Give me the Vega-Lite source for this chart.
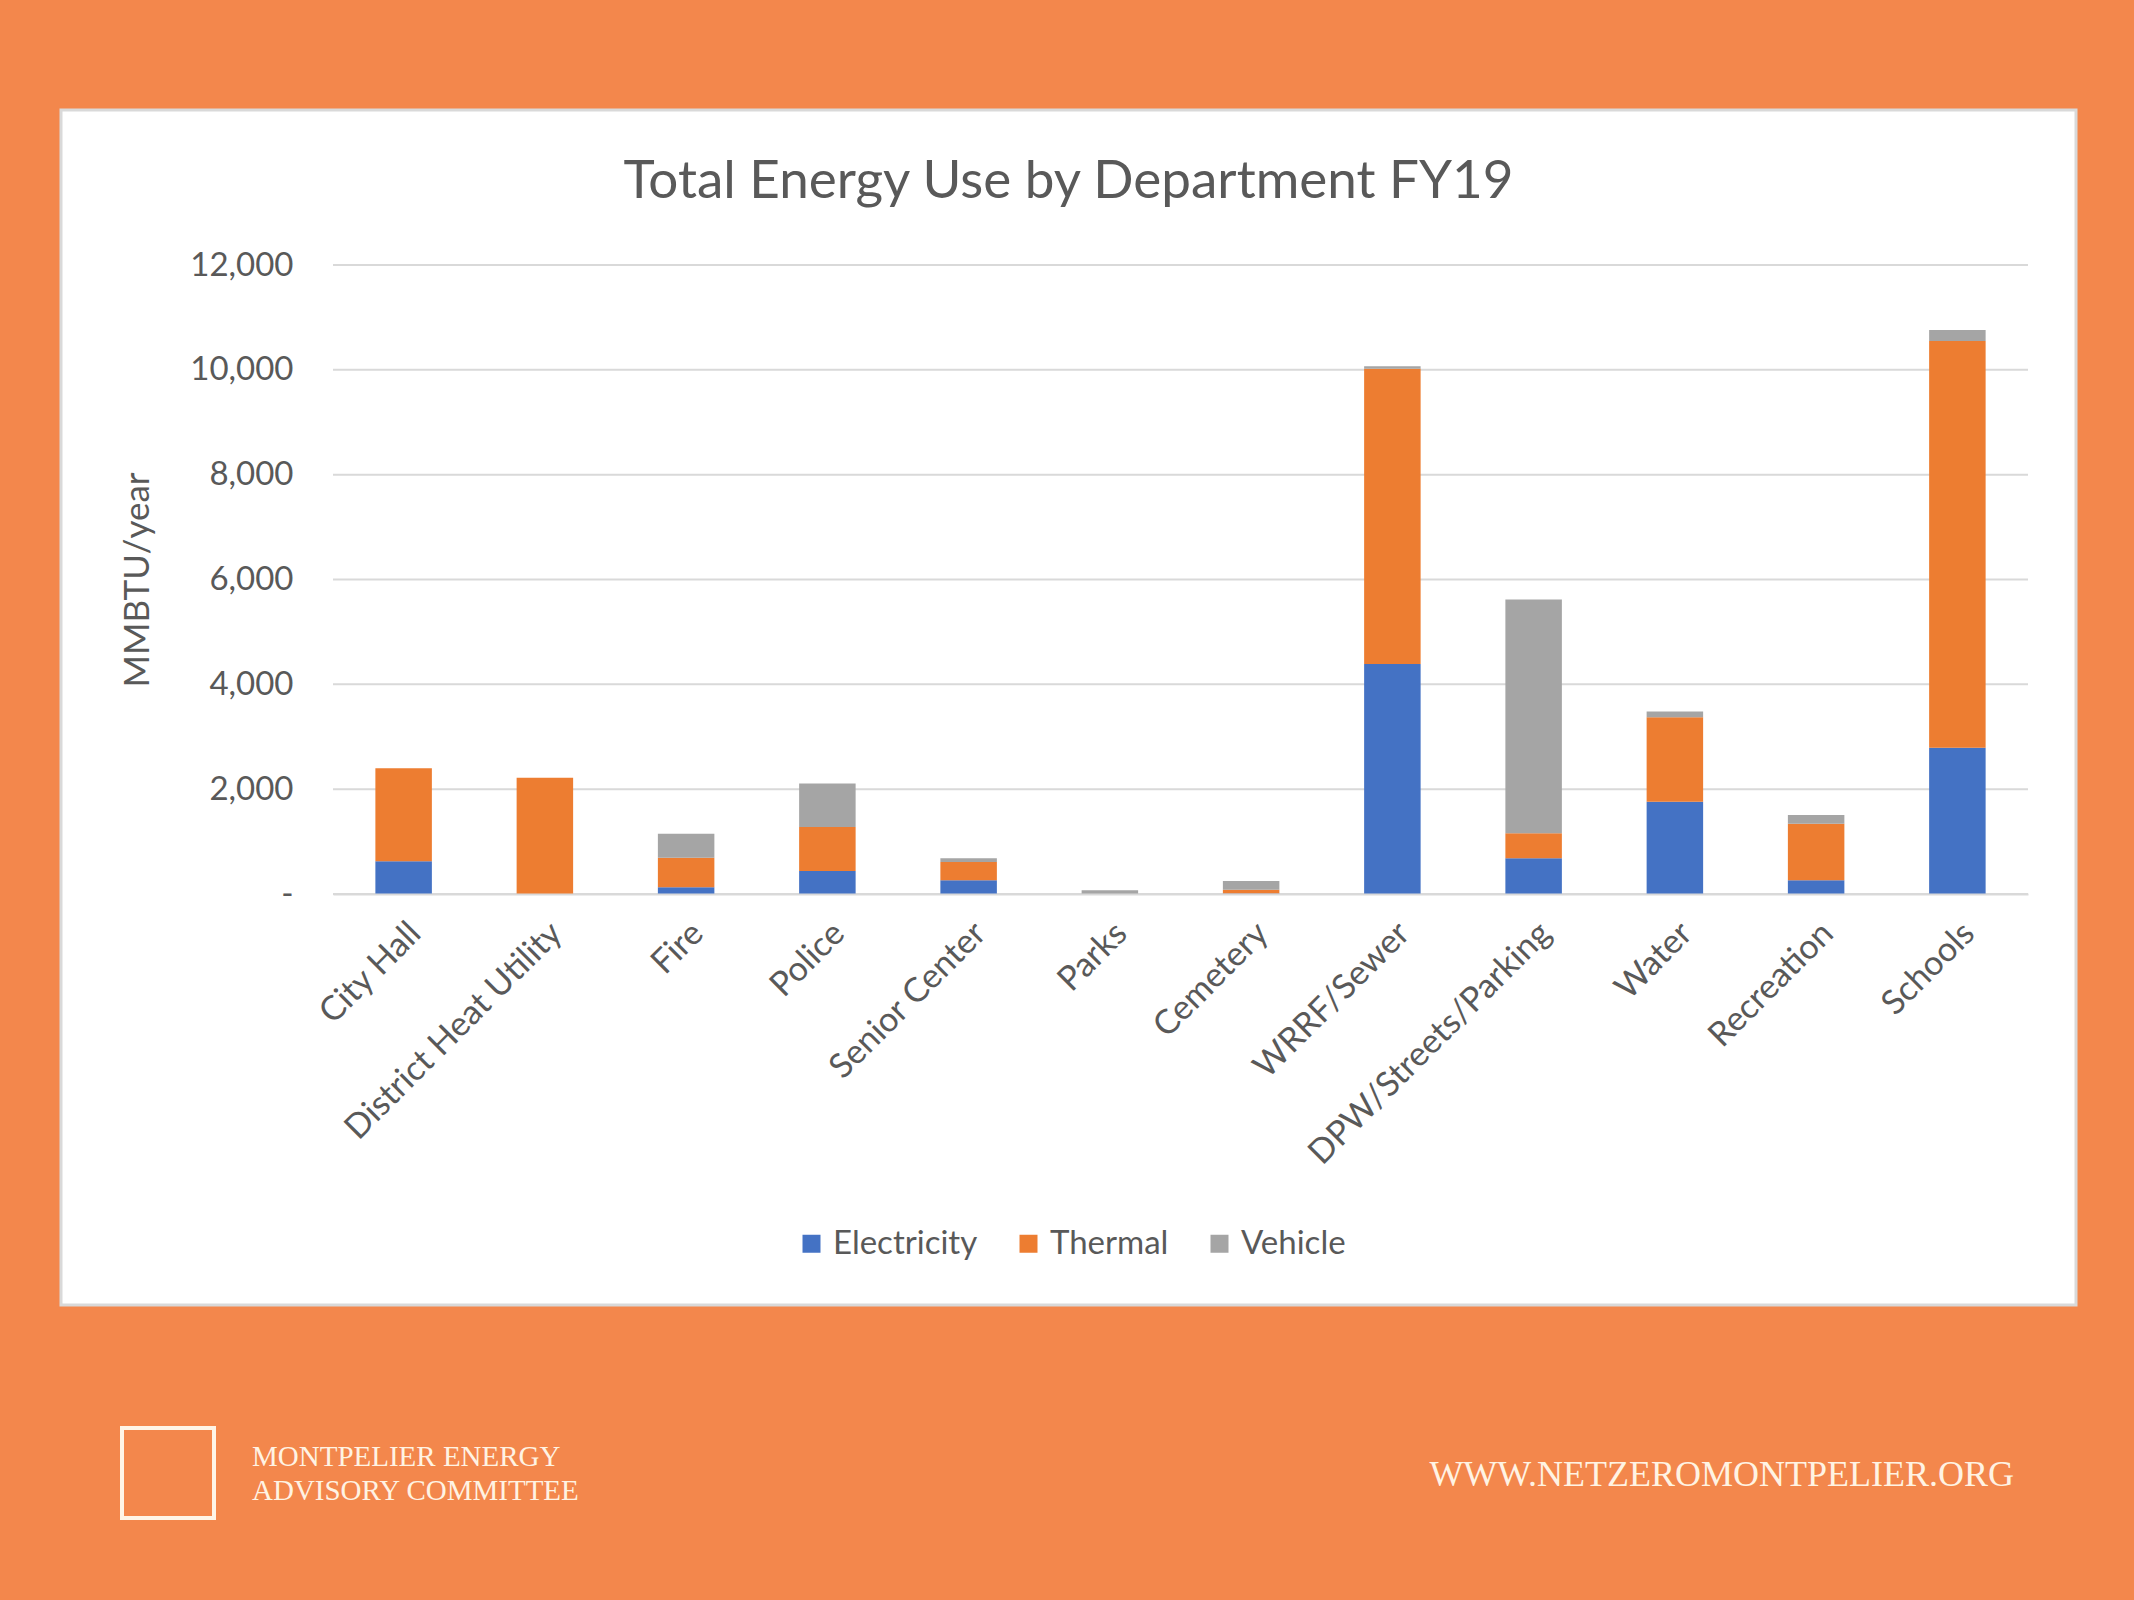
{
  "$schema": "https://vega.github.io/schema/vega-lite/v6.json",
  "width": 1695,
  "height": 629,
  "autosize": {"type": "none"},
  "padding": {"left": 333, "top": 265, "right": 106, "bottom": 706},
  "background": "#F3874C",
  "config": {"font": "Lato", "view": {"stroke": null}},
  "title": {
    "text": "Total Energy Use by Department FY19",
    "font": "Lato",
    "fontSize": 53,
    "fontWeight": "normal",
    "color": "#595959",
    "anchor": "middle",
    "frame": "group",
    "dx": -112,
    "offset": -100
  },
  "data": {
    "values": [
      {"dept": "City Hall", "type": "Electricity", "value": 625},
      {"dept": "City Hall", "type": "Thermal", "value": 1775},
      {"dept": "City Hall", "type": "Vehicle", "value": 0},
      {"dept": "District Heat Utility", "type": "Electricity", "value": 0},
      {"dept": "District Heat Utility", "type": "Thermal", "value": 2220},
      {"dept": "District Heat Utility", "type": "Vehicle", "value": 0},
      {"dept": "Fire", "type": "Electricity", "value": 130},
      {"dept": "Fire", "type": "Thermal", "value": 560},
      {"dept": "Fire", "type": "Vehicle", "value": 460},
      {"dept": "Police", "type": "Electricity", "value": 440},
      {"dept": "Police", "type": "Thermal", "value": 840},
      {"dept": "Police", "type": "Vehicle", "value": 830},
      {"dept": "Senior Center", "type": "Electricity", "value": 260},
      {"dept": "Senior Center", "type": "Thermal", "value": 350},
      {"dept": "Senior Center", "type": "Vehicle", "value": 70},
      {"dept": "Parks", "type": "Electricity", "value": 0},
      {"dept": "Parks", "type": "Thermal", "value": 0},
      {"dept": "Parks", "type": "Vehicle", "value": 70},
      {"dept": "Cemetery", "type": "Electricity", "value": 10},
      {"dept": "Cemetery", "type": "Thermal", "value": 70},
      {"dept": "Cemetery", "type": "Vehicle", "value": 170},
      {"dept": "WRRF/Sewer", "type": "Electricity", "value": 4390},
      {"dept": "WRRF/Sewer", "type": "Thermal", "value": 5630},
      {"dept": "WRRF/Sewer", "type": "Vehicle", "value": 50},
      {"dept": "DPW/Streets/Parking", "type": "Electricity", "value": 680},
      {"dept": "DPW/Streets/Parking", "type": "Thermal", "value": 480},
      {"dept": "DPW/Streets/Parking", "type": "Vehicle", "value": 4460},
      {"dept": "Water", "type": "Electricity", "value": 1760},
      {"dept": "Water", "type": "Thermal", "value": 1610},
      {"dept": "Water", "type": "Vehicle", "value": 110},
      {"dept": "Recreation", "type": "Electricity", "value": 260},
      {"dept": "Recreation", "type": "Thermal", "value": 1080},
      {"dept": "Recreation", "type": "Vehicle", "value": 165},
      {"dept": "Schools", "type": "Electricity", "value": 2790},
      {"dept": "Schools", "type": "Thermal", "value": 7760},
      {"dept": "Schools", "type": "Vehicle", "value": 210}
    ]
  },
  "layer": [
    {
      "data": {"values": [{}]},
      "mark": {"type": "rect", "fill": "#FFFFFF", "stroke": "#D9D9D9", "strokeWidth": 3},
      "encoding": {
        "x": {"value": -272},
        "x2": {"value": 1743},
        "y": {"value": -155},
        "y2": {"value": 1040}
      }
    },
    {
      "data": {"values": [{"value": 0}, {"value": 2000}, {"value": 4000}, {"value": 6000}, {"value": 8000}, {"value": 10000}, {"value": 12000}]},
      "mark": {"type": "rule", "color": "#D9D9D9", "strokeWidth": 2},
      "encoding": {
        "y": {
          "field": "value",
          "type": "quantitative",
          "scale": {"domain": [0, 12000], "nice": false},
          "axis": {
            "values": [0, 2000, 4000, 6000, 8000, 10000, 12000],
            "grid": false,
            "domain": false,
            "ticks": false,
            "labelPadding": 40,
            "labelFont": "Lato",
            "labelFontSize": 33,
            "labelColor": "#595959",
            "labelExpr": "datum.value == 0 ? '-' : format(datum.value, ',')",
            "title": "MMBTU/year",
            "titleFont": "Lato",
            "titleFontSize": 35,
            "titleFontWeight": "normal",
            "titleColor": "#595959",
            "titlePadding": 34,
            "zindex": 1
          }
        }
      }
    },
    {
      "mark": {"type": "bar"},
      "encoding": {
        "x": {
          "field": "dept",
          "type": "nominal",
          "sort": null,
          "scale": {"paddingInner": 0.6, "paddingOuter": 0.3},
          "axis": {
            "title": null,
            "labelAngle": -45,
            "labelFont": "Lato",
            "labelFontSize": 34,
            "labelColor": "#595959",
            "labelPadding": 22,
            "labelLimit": 0,
            "ticks": false,
            "domainColor": "#D9D9D9",
            "domainWidth": 2,
            "zindex": 1
          }
        },
        "y": {
          "field": "value",
          "type": "quantitative",
          "stack": "zero",
          "scale": {"domain": [0, 12000], "nice": false},
          "axis": {
            "values": [0, 2000, 4000, 6000, 8000, 10000, 12000],
            "grid": false,
            "domain": false,
            "ticks": false,
            "labelPadding": 40,
            "labelFont": "Lato",
            "labelFontSize": 33,
            "labelColor": "#595959",
            "labelExpr": "datum.value == 0 ? '-' : format(datum.value, ',')",
            "title": "MMBTU/year",
            "titleFont": "Lato",
            "titleFontSize": 35,
            "titleFontWeight": "normal",
            "titleColor": "#595959",
            "titlePadding": 34,
            "zindex": 1
          }
        },
        "order": {"field": "type", "sort": "ascending"},
        "color": {
          "field": "type",
          "type": "nominal",
          "scale": {"domain": ["Electricity", "Thermal", "Vehicle"], "range": ["#4472C4", "#ED7D31", "#A5A5A5"]},
          "legend": {
            "title": null,
            "orient": "none",
            "legendX": 462,
            "legendY": 962,
            "direction": "horizontal",
            "symbolType": "square",
            "symbolSize": 324,
            "symbolStrokeWidth": 0,
            "labelFont": "Lato",
            "labelFontSize": 33,
            "labelColor": "#595959",
            "labelOffset": 5,
            "columnPadding": 34
          }
        }
      }
    },
    {
      "data": {"values": [{}]},
      "mark": {"type": "rect", "fill": "#F3874C", "fillOpacity": 0, "stroke": "#FFF4E6", "strokeWidth": 4},
      "encoding": {
        "x": {"value": -211},
        "x2": {"value": -119},
        "y": {"value": 1163},
        "y2": {"value": 1253}
      }
    },
    {
      "data": {"values": [{}]},
      "mark": {
        "type": "text",
        "text": ["MONTPELIER ENERGY", "ADVISORY COMMITTEE"],
        "lineHeight": 34,
        "font": "Liberation Serif",
        "fontSize": 29,
        "color": "#FFF3E3",
        "align": "left",
        "baseline": "alphabetic"
      },
      "encoding": {"x": {"value": -81}, "y": {"value": 1201}}
    },
    {
      "data": {"values": [{}]},
      "mark": {
        "type": "text",
        "text": "WWW.NETZEROMONTPELIER.ORG",
        "font": "Liberation Serif",
        "fontSize": 36,
        "color": "#FFF3E3",
        "align": "right",
        "baseline": "alphabetic"
      },
      "encoding": {"x": {"value": 1681}, "y": {"value": 1221}}
    }
  ]
}
